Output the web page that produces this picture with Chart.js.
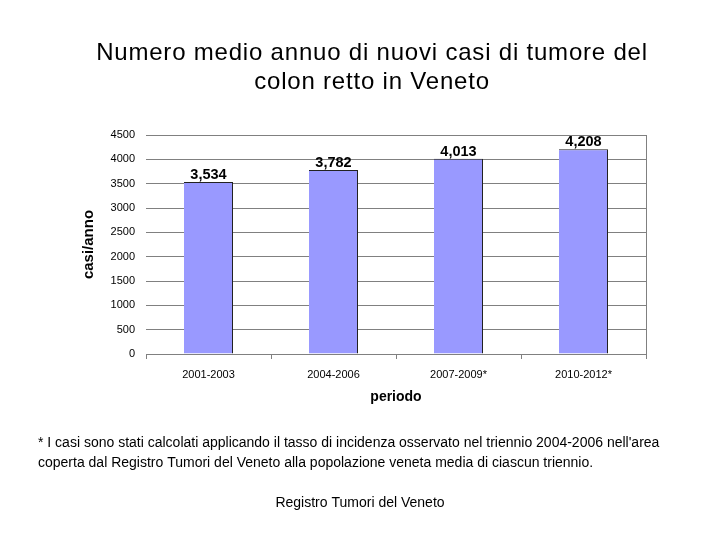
<!DOCTYPE html>
<html><head><meta charset="utf-8">
<script src="https://cdn.jsdelivr.net/npm/chart.js@4"></script>
<style>html,body{margin:0;padding:0;background:#fff}#wrap{width:720px;height:540px;position:relative}</style>
</head><body><div id="wrap"><canvas id="c" width="720" height="540"></canvas></div>
<script>
const categories = ["2001-2003", "2004-2006", "2007-2009*", "2010-2012*"];
const values = [3534, 3782, 4013, 4208];
const valueLabels = ["3,534", "3,782", "4,013", "4,208"];
const titleLines = ["Numero medio annuo di nuovi casi di tumore del", "colon retto in Veneto"];
const footLines = ["* I casi sono stati calcolati applicando il tasso di incidenza osservato nel triennio 2004-2006 nell'area", "coperta dal Registro Tumori del Veneto alla popolazione veneta media di ciascun triennio."];
const sourceText = "Registro Tumori del Veneto";

const FONT = "Arial, 'Liberation Sans', sans-serif";

const extras = {
  id: 'extras',
  afterDraw(chart) {
    const ctx = chart.ctx;
    const a = chart.chartArea;
    ctx.save();
    // right border of plot area
    ctx.strokeStyle = '#808080'; ctx.lineWidth = 1;
    ctx.beginPath(); ctx.moveTo(Math.round(a.right) + 0.5, a.top); ctx.lineTo(Math.round(a.right) + 0.5, a.bottom); ctx.stroke();
    // data labels
    const meta = chart.getDatasetMeta(0);
    ctx.fillStyle = '#000';
    ctx.font = "bold 14.5px " + FONT;
    ctx.textAlign = 'center'; ctx.textBaseline = 'alphabetic';
    meta.data.forEach((bar, i) => { ctx.fillText(valueLabels[i], bar.x, bar.y - 3); });
    // title
    ctx.font = "24px " + FONT;
    if ('letterSpacing' in ctx) ctx.letterSpacing = '0.8px';
    ctx.textBaseline = 'middle';
    ctx.fillText(titleLines[0], 372, 53);
    ctx.fillText(titleLines[1], 372, 82);
    if ('letterSpacing' in ctx) ctx.letterSpacing = '0px';
    // footnote
    ctx.font = "14px " + FONT;
    ctx.textAlign = 'left';
    ctx.fillText(footLines[0], 38, 443);
    ctx.fillText(footLines[1], 38, 463);
    ctx.textAlign = 'center';
    ctx.fillText(sourceText, 360, 503);
    ctx.restore();
  }
};

new Chart(document.getElementById('c'), {
  type: 'bar',
  data: { labels: categories, datasets: [{ data: values, backgroundColor: '#9999FF', borderColor: '#222', borderWidth: {top:1,right:1,left:0,bottom:0}, categoryPercentage: 0.8, barPercentage: 0.49 }] },
  options: {
    responsive: false, animation: false,
    layout: { padding: { left: 80, right: 74, top: 135, bottom: 134 } },
    plugins: { legend: { display: false }, tooltip: { enabled: false }, title: { display: false } },
    scales: {
      x: {
        offset: true,
        grid: { offset: true, drawOnChartArea: false, drawTicks: true, tickLength: 5, color: '#808080' },
        border: { display: true, color: '#808080', width: 1 },
        ticks: { color: '#000', font: { family: FONT, size: 11 }, padding: 9, maxRotation: 0 },
        title: { display: true, text: 'periodo', color: '#000', font: { family: FONT, size: 14, weight: 'bold' }, padding: 0 },
        afterFit(s) { s.height = 52; }
      },
      y: {
        min: 0, max: 4500,
        ticks: { stepSize: 500, color: '#000', font: { family: FONT, size: 11 }, padding: 11, callback: v => String(v) },
        grid: { color: '#808080', drawTicks: false },
        border: { display: false },
        title: { display: true, text: 'casi/anno', color: '#000', font: { family: FONT, size: 15, weight: 'bold' }, padding: 0 },
        afterFit(s) { s.width = 66; }
      }
    }
  },
  plugins: [extras]
});
</script></body></html>
